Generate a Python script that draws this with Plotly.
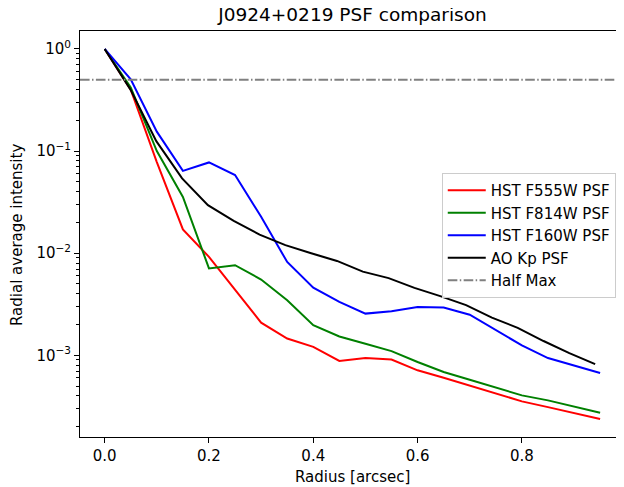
import plotly.graph_objects as go

# Radii (arcsec)
radius_hst = [0.0, 0.05, 0.1, 0.15, 0.2, 0.25, 0.3, 0.35, 0.4, 0.45,
              0.5, 0.55, 0.6, 0.65, 0.7, 0.75, 0.8, 0.85, 0.9, 0.95]
radius_ao = [0.0, 0.0495, 0.099, 0.1485, 0.198, 0.2475, 0.297, 0.3465, 0.396, 0.4455,
             0.495, 0.5445, 0.594, 0.6435, 0.693, 0.7425, 0.792, 0.8415, 0.891, 0.9405]

# Radial average intensities
f555w = [1.0, 0.40, 0.078, 0.0171, 0.0092, 0.00434, 0.00209, 0.00146, 0.00121, 0.00088,
         0.00094, 0.00091, 0.000713, 0.000604, 0.000508, 0.000421, 0.000354, 0.000311, 0.000274, 0.000238]
f814w = [1.0, 0.42, 0.10, 0.0356, 0.0071, 0.00763, 0.00552, 0.00346, 0.00197, 0.00153,
         0.0013, 0.0011, 0.00086, 0.000687, 0.000577, 0.000482, 0.000405, 0.000362, 0.000316, 0.000274]
f160w = [1.0, 0.505, 0.155, 0.064, 0.0774, 0.0582, 0.0227, 0.0082, 0.0046, 0.00333,
         0.00256, 0.0027, 0.00298, 0.00294, 0.0025, 0.00176, 0.00125, 0.00094, 0.000798, 0.000671]
ao_kp = [1.0, 0.40, 0.125, 0.054, 0.0295, 0.0207, 0.0152, 0.012, 0.0100, 0.0084,
         0.0066, 0.0057, 0.00457, 0.0038, 0.0031, 0.00234, 0.00186, 0.00138, 0.00105, 0.00082]
half_max = 0.5

series = [
    ("HST F555W PSF", radius_hst, f555w, "#ff0000"),
    ("HST F814W PSF", radius_hst, f814w, "#008000"),
    ("HST F160W PSF", radius_hst, f160w, "#0000ff"),
    ("AO Kp PSF", radius_ao, ao_kp, "#000000"),
]

x_ticks = [0.0, 0.2, 0.4, 0.6, 0.8]
y_ticks = [1, 0.1, 0.01, 0.001]
y_ticktext = ["10<sup>0</sup>", "10<sup>\u22121</sup>", "10<sup>\u22122</sup>", "10<sup>\u22123</sup>"]

fig = go.Figure()
for name, xs, ys, color in series:
    fig.add_trace(go.Scatter(x=xs, y=ys, mode="lines", name=name,
                             line=dict(color=color, width=2)))

fig.add_shape(type="line", xref="x domain", x0=0, x1=1, yref="y", y0=half_max, y1=half_max,
              line=dict(color="#808080", width=2, dash="9.6px,2.4px,1.5px,2.4px"),
              showlegend=True, name="Half Max")

minor_vals = [m * 10.0 ** e for e in range(-4, 1) for m in range(2, 10)]

font = "DejaVu Sans"
fs = 15
fig.update_layout(
    width=616, height=479,
    margin=dict(l=72, r=0, t=23, b=50),
    paper_bgcolor="white", plot_bgcolor="white",
    font=dict(family=font, size=fs, color="#000000"),
    showlegend=True,
    title=dict(text="J0924+0219 PSF comparison", x=0.501, xref="paper", xanchor="center",
               y=1.0, yref="container", yanchor="top", pad=dict(t=0, b=0, l=0, r=0),
               font=dict(family=font, size=18.5, color="#000000")),
    legend=dict(x=0.665, y=0.65, xanchor="left", yanchor="top", itemwidth=38,
                bgcolor="rgba(255,255,255,0.8)", bordercolor="#cccccc", borderwidth=1,
                font=dict(family=font, size=fs, color="#000000")),
    xaxis=dict(range=[-0.0473, 0.9958], showgrid=False, zeroline=False,
               showline=True, linecolor="black", linewidth=1, mirror=True,
               ticks="outside", ticklen=5, tickwidth=1, tickcolor="black",
               tickvals=x_ticks, tickformat=".1f", tickfont=dict(size=fs)),
    yaxis=dict(type="log", range=[-3.80, 0.176], showgrid=False, zeroline=False,
               showline=True, linecolor="black", linewidth=1, mirror=False,
               ticks="outside", ticklen=5, tickwidth=1, tickcolor="black",
               tickvals=y_ticks, ticktext=y_ticktext, tickfont=dict(size=fs),
               minor=dict(ticks="outside", ticklen=3, tickwidth=1, tickcolor="black",
                          tickvals=minor_vals, showgrid=False)),
    annotations=[
        dict(text="Radius [arcsec]", xref="paper", yref="paper", x=0.5009, y=-0.0978,
             xanchor="center", yanchor="middle", showarrow=False,
             font=dict(family=font, size=fs, color="#000000")),
        dict(text="Radial average intensity", xref="paper", yref="paper", x=-0.1158, y=0.4975,
             xanchor="center", yanchor="middle", textangle=-90, showarrow=False,
             font=dict(family=font, size=fs, color="#000000")),
    ],
)

fig.write_html("out.html")
